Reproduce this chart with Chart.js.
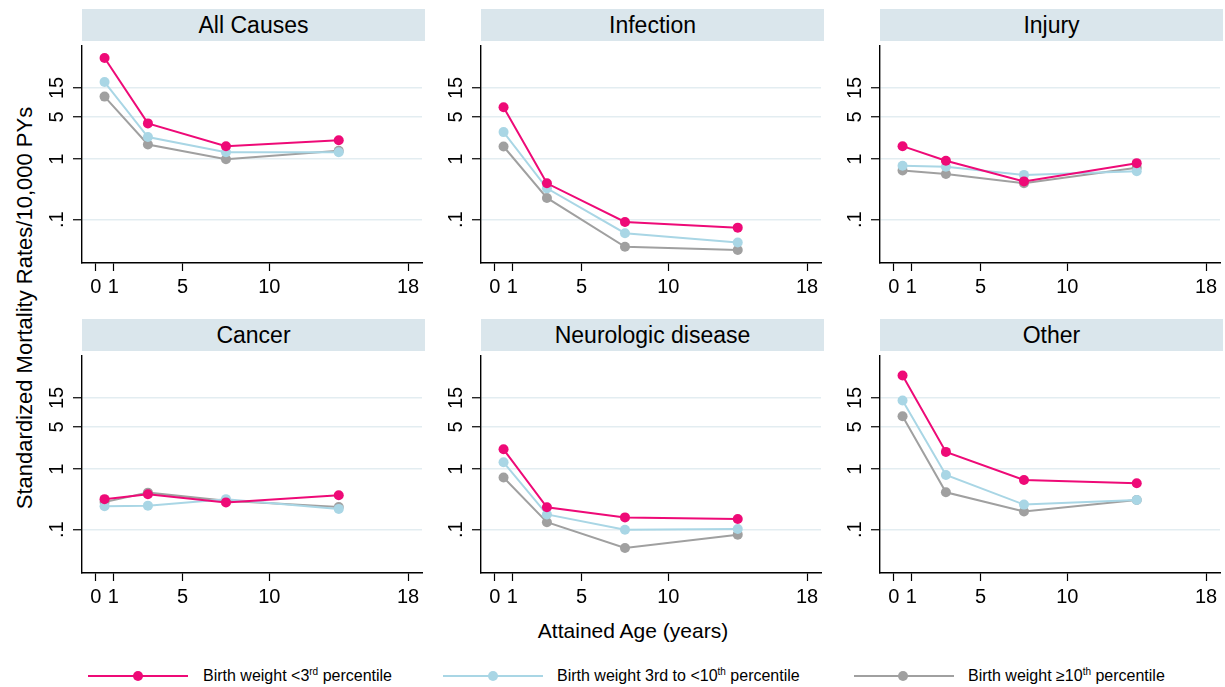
<!DOCTYPE html>
<html>
<head>
<meta charset="utf-8">
<title>Standardized mortality rates by attained age</title>
<script src="https://cdn.jsdelivr.net/npm/chart.js@4.4.1/dist/chart.umd.min.js"></script>
<style>
  html, body { margin: 0; padding: 0; background: #fff; overflow: hidden; }
  body { width: 1225px; height: 687px; position: relative; font-family: "Liberation Sans", Arial, Helvetica, sans-serif; color: #000; }
  .strip { position: absolute; background: #dae6ec; height: 32px; line-height: 33px; text-align: center; font-size: 23px; }
  canvas.panel { position: absolute; }
  .ytitle { position: absolute; left: 25px; top: 308px; transform: translate(-50%, -50%) rotate(-90deg); white-space: nowrap; font-size: 22px; }
  .xtitle { position: absolute; left: 633px; top: 631px; transform: translate(-50%, -50%); white-space: nowrap; font-size: 21px; }
  .leg-line { position: absolute; height: 2px; width: 100px; top: 675px; }
  .leg-dot { position: absolute; width: 10px; height: 10px; border-radius: 50%; top: 671px; }
  .leg-text { position: absolute; top: 676px; transform: translateY(-50%); font-size: 16px; white-space: nowrap; }
  .leg-text sup { font-size: 10px; vertical-align: 6px; line-height: 0; }
</style>
</head>
<body>
<div class="ytitle">Standardized Mortality Rates/10,000 PYs</div>
<div class="xtitle">Attained Age (years)</div>

<div class="leg-line" style="left:88px;background:#ee0a77"></div>
<div class="leg-dot" style="left:133px;background:#ee0a77"></div>
<div class="leg-text" style="left:203px">Birth weight &lt;3<sup>rd</sup> percentile</div>

<div class="leg-line" style="left:443px;background:#a9d6e5"></div>
<div class="leg-dot" style="left:488px;background:#a9d6e5"></div>
<div class="leg-text" style="left:557px">Birth weight 3rd to &lt;10<sup>th</sup> percentile</div>

<div class="leg-line" style="left:854px;background:#a0a0a0"></div>
<div class="leg-dot" style="left:898px;background:#a0a0a0"></div>
<div class="leg-text" style="left:968px">Birth weight ≥10<sup>th</sup> percentile</div>

<script>
// data (rates per 10,000 person-years, log scale)
const ages = [0.5, 3, 7.5, 14];
const causes = ['All Causes', 'Infection', 'Injury', 'Cancer', 'Neurologic disease', 'Other'];

// one row per cause, same order as causes
const below3rd = [
    [47, 3.9, 1.64, 2.05],
    [7.2, 0.40, 0.092, 0.074],
    [1.64, 0.94, 0.43, 0.86],
    [0.32, 0.385, 0.283, 0.37],
    [2.13, 0.235, 0.16, 0.15],
    [35.3, 1.93, 0.665, 0.587]
];
const from3rdTo10th = [
    [18.8, 2.32, 1.3, 1.3],
    [2.8, 0.33, 0.060, 0.042],
    [0.78, 0.75, 0.55, 0.63],
    [0.244, 0.25, 0.32, 0.221],
    [1.3, 0.179, 0.1, 0.103],
    [13.6, 0.80, 0.26, 0.31]
];
const atLeast10th = [
    [10.8, 1.75, 1.0, 1.38],
    [1.62, 0.229, 0.0358, 0.0316],
    [0.65, 0.57, 0.40, 0.72],
    [0.286, 0.41, 0.30, 0.238],
    [0.73, 0.133, 0.05, 0.083],
    [7.5, 0.415, 0.20, 0.31]
];

const yTicks = [0.1, 1, 5, 15];
const yTickLabels = ['.1', '1', '5', '15'];
const xTicks = [0, 1, 5, 10, 18];

const seriesColors = ['#ee0a77', '#a9d6e5', '#a0a0a0'];
const fontFamily = '"Liberation Sans", Arial, Helvetica, sans-serif';

// panel geometry (plot area in page pixels)
const colLeft = [82, 481, 880];
const rowTop = [41, 351];
const plotW = 343;
const plotH = 222;
const yAxisW = 45;
const xAxisH = 36;

// Stata-style y labels: rotated a quarter turn
const rotatedYLabels = {
    id: 'rotatedYLabels',
    afterDraw(chart) {
        const ctx = chart.ctx;
        const yScale = chart.scales.y;
        ctx.save();
        ctx.fillStyle = '#000';
        ctx.font = '20px ' + fontFamily;
        ctx.textAlign = 'center';
        ctx.textBaseline = 'middle';
        yScale.ticks.forEach(function(t) {
            const idx = yTicks.indexOf(t.value);
            const y = yScale.getPixelForValue(t.value);
            ctx.save();
            ctx.translate(chart.chartArea.left - 25, y);
            ctx.rotate(-Math.PI / 2);
            ctx.fillText(yTickLabels[idx], 0, 0);
            ctx.restore();
        });
        ctx.restore();
    }
};

causes.forEach(function(cause, i) {
    const col = i % 3;
    const row = Math.floor(i / 3);

    const strip = document.createElement('div');
    strip.className = 'strip';
    strip.style.left = colLeft[col] + 'px';
    strip.style.top = (rowTop[row] - 32) + 'px';
    strip.style.width = plotW + 'px';
    strip.textContent = cause;
    document.body.appendChild(strip);

    const canvas = document.createElement('canvas');
    canvas.className = 'panel';
    canvas.width = yAxisW + plotW + 2;
    canvas.height = plotH + xAxisH;
    canvas.style.left = (colLeft[col] - yAxisW) + 'px';
    canvas.style.top = rowTop[row] + 'px';
    document.body.appendChild(canvas);

    const groups = [below3rd, from3rdTo10th, atLeast10th];
    const datasets = groups.map(function(g, s) {
        return {
            data: ages.map((a, k) => ({ x: a, y: g[i][k] })),
            borderColor: seriesColors[s],
            backgroundColor: seriesColors[s],
            pointBackgroundColor: seriesColors[s],
            pointBorderColor: seriesColors[s],
            pointBorderWidth: 0,
            pointRadius: 5,
            borderWidth: 2,
            tension: 0
        };
    });

    new Chart(canvas, {
        type: 'line',
        data: { datasets: datasets },
        options: {
            responsive: false,
            animation: false,
            layout: { padding: { left: 0, right: 2, top: 0, bottom: 0 } },
            plugins: {
                legend: { display: false },
                tooltip: { enabled: false }
            },
            scales: {
                x: {
                    type: 'linear',
                    min: -0.8,
                    max: 18.8,
                    afterBuildTicks: function(scale) {
                        scale.ticks = xTicks.map(v => ({ value: v }));
                    },
                    afterFit: function(scale) { scale.height = xAxisH; },
                    grid: {
                        drawOnChartArea: false,
                        drawTicks: true,
                        tickLength: 8,
                        tickColor: '#000',
                        tickWidth: 1.2
                    },
                    border: { color: '#000', width: 1.4 },
                    ticks: {
                        autoSkip: false,
                        maxRotation: 0,
                        minRotation: 0,
                        padding: 4,
                        color: '#000',
                        font: { family: fontFamily, size: 20 },
                        callback: v => String(v)
                    }
                },
                y: {
                    type: 'logarithmic',
                    min: 0.0193,
                    max: 74,
                    afterBuildTicks: function(scale) {
                        scale.ticks = yTicks.map(v => ({ value: v }));
                    },
                    afterFit: function(scale) { scale.width = yAxisW; },
                    grid: {
                        color: '#e3edf1',
                        lineWidth: 1.5,
                        drawTicks: true,
                        tickLength: 9,
                        tickColor: '#000',
                        tickWidth: 1.2
                    },
                    border: { color: '#000', width: 1.4 },
                    ticks: { display: false }
                }
            }
        },
        plugins: [rotatedYLabels]
    });
});
</script>
</body>
</html>
